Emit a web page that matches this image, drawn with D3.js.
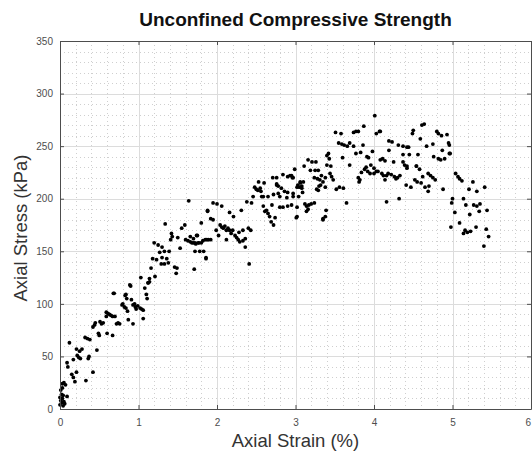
<!DOCTYPE html>
<html><head><meta charset="utf-8">
<script src="https://cdn.jsdelivr.net/npm/d3@7"></script>
<style>body{margin:0;background:#fff;}svg{display:block;font-family:"Liberation Sans",Arial,sans-serif;}</style>
</head><body>
<svg id="chart" width="532" height="455"></svg>
<script>
const title = "Unconfined Compressive Strength";
const xLabel = "Axial Strain (%)";
const yLabel = "Axial Stress (kPa)";
const xTicks = [0,1,2,3,4,5,6];
const yTicks = [0,50,100,150,200,250,300,350];

// axial strain (%)
const strain = [
0.00,0.01,0.00,0.02,0.01,0.03,0.02,0.04,0.05,0.03,0.06,0.04,0.09,0.03,0.05,0.07,0.09,0.10,0.12,0.15,0.17,0.19,0.17,0.21,0.22,0.24,0.26,0.21,0.25,0.28,0.32,0.35,0.38,0.33,0.36,0.37,0.42,0.47,0.42,0.45,0.44,0.49,0.50,0.53,0.55,0.51,
0.59,0.61,0.63,0.65,0.67,0.60,0.67,0.70,0.72,0.74,0.76,0.59,0.68,0.79,0.80,0.82,0.84,0.87,0.93,0.93,0.96,0.99,1.02,1.04,1.06,1.06,0.89,0.90,0.69,0.84,0.83,0.85,0.91,0.86,0.97,0.95,
1.03,1.10,1.11,1.12,1.14,1.14,1.16,1.21,1.18,1.23,1.20,1.25,1.30,1.27,1.33,1.39,1.30,1.36,1.33,1.29,1.38,1.46,1.49,1.48,1.34,1.42,1.43,1.41,1.50,1.53,1.55,1.59,1.125,1.08,
1.64,1.88,1.80,1.60,1.63,1.66,1.70,1.73,1.77,1.82,1.87,1.75,1.72,1.78,1.86,1.66,1.70,1.74,1.68,1.72,1.76,1.80,1.85,1.89,1.92,1.83,1.86,1.71,1.95,2.00,2.06,1.88,1.92,1.95,1.99,2.02,
2.04,2.06,2.08,2.10,2.12,2.14,2.16,2.18,2.20,2.16,2.21,2.31,2.23,2.25,2.27,2.33,2.40,2.43,2.28,2.12,2.29,2.33,2.36,2.36,2.41,2.38,2.44,2.46,2.48,2.50,2.53,2.52,2.56,
2.60,2.57,2.65,2.71,2.76,2.84,2.90,2.95,2.97,2.76,2.78,2.82,2.86,2.90,2.78,2.80,2.89,2.70,2.80,2.84,2.90,2.59,2.63,2.65,2.67,2.74,2.72,2.59,2.72,2.61,2.69,2.55,2.76,2.97,2.97,2.95,2.93,2.96,
3.03,3.10,3.02,3.01,3.02,3.06,3.08,3.05,3.09,3.02,3.08,3.11,3.16,3.21,3.26,2.99,3.19,3.29,3.25,3.24,3.28,3.31,3.33,3.35,3.38,3.40,3.44,3.46,3.48,3.42,3.43,3.45,3.06,3.32,3.30,3.38,3.27,3.29,3.04,3.14,3.17,3.20,3.24,3.14,3.39,3.35,3.38,3.35,3.12,3.16,3.40,
3.51,3.58,3.55,3.59,3.62,3.66,3.69,3.74,3.74,3.77,3.80,3.87,3.86,3.77,3.83,3.91,3.98,4.01,3.60,3.69,3.93,3.52,3.56,3.61,3.65,3.80,3.82,3.81,3.88,3.92,3.95,3.90,3.84,3.96,4.00,4.03,
4.03,4.07,4.08,4.19,4.19,4.23,4.31,4.37,4.42,4.44,4.37,4.45,4.08,4.11,4.14,4.25,4.37,4.39,4.42,4.05,4.00,4.10,4.16,4.12,4.14,4.18,4.22,4.26,4.30,4.33,4.28,4.41,4.47,4.16,4.32,4.42,4.54,4.50,4.49,
4.61,4.64,4.59,4.67,4.75,4.80,4.82,4.86,4.93,4.95,4.96,4.87,4.96,4.76,4.82,4.85,4.90,4.54,4.56,4.52,4.55,4.58,4.62,4.69,4.72,4.75,4.78,4.65,4.69,4.88,4.97,4.60,4.70,
5.04,5.07,5.09,5.12,5.26,5.21,5.31,5.41,5.00,4.99,5.14,5.17,5.27,5.31,5.35,5.34,5.44,5.03,5.22,5.09,5.30,4.98,5.16,5.19,5.23,5.14,5.43,5.46,5.40
];
// axial stress (kPa)
const stress = [
4,8,11,14,18,20,6,3,7,10,5,13,12,24,25,23,44,40,63,33,30,26,47,35,51,49,48,57,55,57,68,67,66,27,48,50,35,56,78,82,80,72,70,81,82,83,
92,91,90,89,88,72,70,88,81,82,81,88,110,99,100,97,96,85,81,99,97,98,96,95,94,86,118,117,110,109,108,105,104,93,95,100,
125,109,105,120,124,121,134,126,143,142,158,156,154,149,150,150,144,143,138,138,139,135,134,129,176,167,164,161,163,153,172,175,120,115,
198,188,177,161,160,159,158,157,158,160,161,165,150,150,144,164,162,165,158,158,158,158,161,161,161,150,143,133,196,195,193,189,181,180,170,165,
175,173,172,174,170,172,170,167,170,187,183,189,165,163,161,170,172,170,168,161,159,160,162,154,138,197,196,202,211,209,216,208,207,
215,202,202,220,220,223,221,222,220,214,212,210,207,206,205,202,201,194,192,192,193,193,189,186,183,182,175,202,204,188,178,210,213,205,202,194,222,220,
213,216,192,182,183,215,212,211,206,211,210,231,237,235,235,228,227,227,227,220,219,218,222,216,220,232,224,221,218,243,238,231,216,213,212,211,209,208,202,193,194,195,196,188,189,181,183,180,195,190,241,
263,262,253,252,251,250,253,250,263,264,264,269,251,243,244,240,245,279,239,232,239,209,211,210,196,220,218,216,228,226,224,230,225,232,229,226,
262,264,264,255,246,254,251,250,249,249,242,242,237,238,236,235,235,232,231,226,224,224,222,222,218,224,223,221,220,222,219,213,211,197,200,229,231,265,262,
270,271,257,250,252,264,262,260,261,253,251,246,243,240,238,237,238,231,242,218,216,228,221,224,222,220,218,211,207,209,243,215,212,
224,221,219,217,216,209,207,211,200,196,200,194,194,193,195,188,189,187,185,177,173,173,170,168,169,167,171,164,155
];

const svg = d3.select("#chart");
const W = 532, H = 455;
const m = {left:60, right:1, top:41, bottom:46};
const x = d3.scaleLinear().domain([0,6]).range([m.left, W - m.right]);
const y = d3.scaleLinear().domain([0,350]).range([H - m.bottom, m.top]);

svg.append("rect").attr("width",W).attr("height",H).attr("fill","#fff");

// minor grid
const xMinor = d3.range(0, 6.0001, 0.2).filter(v => Math.abs(v - Math.round(v)) > 1e-6);
const yMinor = d3.range(0, 350.001, 10).filter(v => v % 50 !== 0);
const g = svg.append("g");
g.selectAll(".xm").data(xMinor).join("line")
  .attr("x1", d => Math.round(x(d)) + 0.5).attr("x2", d => Math.round(x(d)) + 0.5)
  .attr("y1", y(350)).attr("y2", y(0))
  .attr("stroke","#cfcfcf").attr("stroke-width",1).attr("stroke-dasharray","1,3");
g.selectAll(".ym").data(yMinor).join("line")
  .attr("y1", d => Math.round(y(d)) + 0.5).attr("y2", d => Math.round(y(d)) + 0.5)
  .attr("x1", x(0)).attr("x2", x(6))
  .attr("stroke","#cfcfcf").attr("stroke-width",1).attr("stroke-dasharray","1,3");
// major grid
g.selectAll(".xM").data(xTicks).join("line")
  .attr("x1", d => Math.round(x(d)) + 0.5).attr("x2", d => Math.round(x(d)) + 0.5)
  .attr("y1", y(350)).attr("y2", y(0))
  .attr("stroke","#dcdcdc").attr("stroke-width",1);
g.selectAll(".yM").data(yTicks).join("line")
  .attr("y1", d => Math.round(y(d)) + 0.5).attr("y2", d => Math.round(y(d)) + 0.5)
  .attr("x1", x(0)).attr("x2", x(6))
  .attr("stroke","#dcdcdc").attr("stroke-width",1);

// points
svg.append("g").selectAll("circle").data(strain.map((s,i)=>[s,stress[i]])).join("circle")
  .attr("cx", d => x(d[0])).attr("cy", d => y(d[1])).attr("r", 1.9).attr("fill","#000");

// axes
const axColor = "#4d4d4d";
function styleAxis(sel){
  sel.select(".domain").attr("stroke", axColor).attr("stroke-width",1);
  sel.selectAll(".tick line").attr("stroke", axColor);
  sel.selectAll("text").attr("fill","#4d4d4d").style("font-size","10px").style("font-family","'Liberation Sans',Arial,sans-serif");
}
const bx = svg.append("g").attr("transform",`translate(0,${y(0)})`)
  .call(d3.axisBottom(x).tickValues(xTicks).tickFormat(d3.format("d")).tickSizeInner(-4).tickSizeOuter(0).tickPadding(10))
  .call(styleAxis);
// keep last tick label inside the picture
bx.selectAll(".tick text").filter(d => d === 6).attr("text-anchor","end").attr("dx","-0.5px");
svg.append("g").attr("transform",`translate(${x(0)},0)`)
  .call(d3.axisLeft(y).tickValues(yTicks).tickFormat(d3.format("d")).tickSizeInner(-4).tickSizeOuter(0).tickPadding(7))
  .call(styleAxis);
svg.append("g").attr("transform",`translate(0,${y(350)})`)
  .call(d3.axisTop(x).tickValues(xTicks).tickFormat("").tickSizeInner(-4).tickSizeOuter(0))
  .call(styleAxis);
svg.append("g").attr("transform",`translate(${x(6)},0)`)
  .call(d3.axisRight(y).tickValues(yTicks).tickFormat("").tickSizeInner(-4).tickSizeOuter(0))
  .call(styleAxis);

// title and labels
svg.append("text").attr("x", (x(0)+x(6))/2).attr("y", 26).attr("text-anchor","middle")
  .style("font-size","19px").style("font-weight","bold").attr("fill","#111").text(title);
svg.append("text").attr("x", (x(0)+x(6))/2).attr("y", 447).attr("text-anchor","middle")
  .style("font-size","18.5px").attr("fill","#333").text(xLabel);
svg.append("text").attr("transform",`translate(27,${(y(0)+y(350))/2 + 3}) rotate(-90)`).attr("text-anchor","middle")
  .style("font-size","18.5px").attr("fill","#333").text(yLabel);
</script>
</body></html>
